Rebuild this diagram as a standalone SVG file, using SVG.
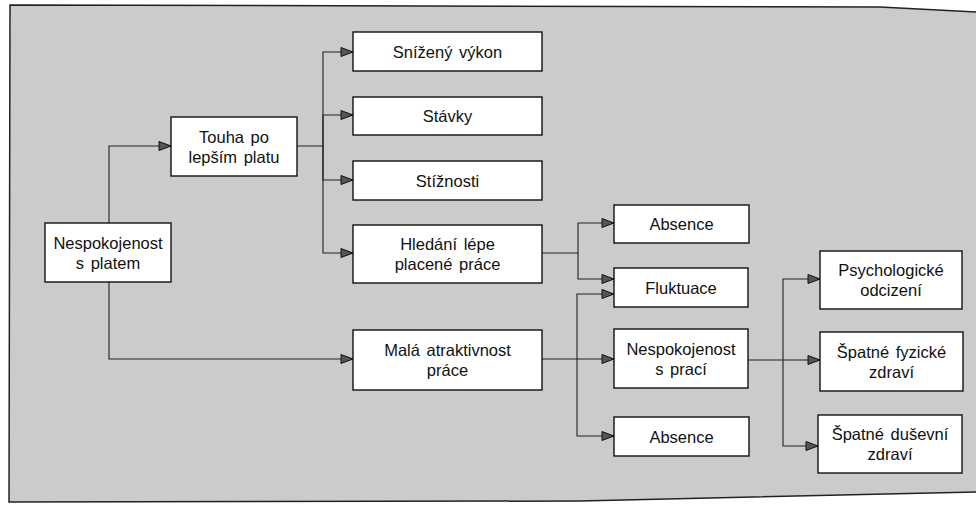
<svg xmlns="http://www.w3.org/2000/svg" width="976" height="505" viewBox="0 0 976 505">
<style>
.bg{fill:#cbcbcb;stroke:none}
.frame{fill:none;stroke:#222;stroke-width:1.5}
.box rect{fill:#fff;stroke:#111;stroke-width:1.4}
.box text{font-family:"Liberation Sans",Arial,sans-serif;font-size:16.5px;fill:#111;text-anchor:middle;word-spacing:2px}
.conn path{fill:none;stroke:#222;stroke-width:1.1;marker-end:url(#arr)}
</style>
<defs>
<marker id="arr" markerUnits="userSpaceOnUse" markerWidth="14" markerHeight="12" viewBox="0 0 14 12" refX="13" refY="6" orient="auto">
<path d="M1,1.5 L13,6 L1,10.5 z" fill="#555" stroke="#111" stroke-width="1"/>
</marker>
</defs>
<polygon class="bg" points="10,5 880,7 976,12 976,492 580,501 9,502"/>
<polyline class="frame" points="976,12 880,7 10,5 9,502 580,501 976,492"/>
<g class="conn" id="connectors">
<path d="M109,223 V146 H171"/>
<path d="M109,282 V359 H353"/>
<path d="M297,146 H323 V52 H353"/>
<path d="M323,146 V115 H353"/>
<path d="M323,146 V180 H353"/>
<path d="M323,146 V253 H353"/>
<path d="M542,253 H578 V223 H614"/>
<path d="M578,253 V279 H614"/>
<path d="M542,359 H614"/>
<path d="M577,359 V294 H614"/>
<path d="M577,359 V436 H614"/>
<path d="M748,360 H820"/>
<path d="M783,360 V279 H820"/>
<path d="M783,360 V446 H818"/>
</g>
<g class="box" id="n-nespokojenost-platem"><rect x="45" y="223" width="126" height="59"/><text x="108" y="248.5">Nespokojenost</text><text x="108" y="268.5">s platem</text></g>
<g class="box" id="n-touha"><rect x="171" y="117" width="126" height="59"/><text x="234" y="142.5">Touha po</text><text x="234" y="162.5">lepším platu</text></g>
<g class="box" id="n-snizeny"><rect x="353" y="32" width="189" height="39"/><text x="447.5" y="57.5">Snížený výkon</text></g>
<g class="box" id="n-stavky"><rect x="353" y="97" width="189" height="38"/><text x="447.5" y="122">Stávky</text></g>
<g class="box" id="n-stiznosti"><rect x="353" y="161" width="189" height="39"/><text x="447.5" y="186.5">Stížnosti</text></g>
<g class="box" id="n-hledani"><rect x="353" y="225" width="189" height="58"/><text x="447.5" y="250">Hledání lépe</text><text x="447.5" y="270">placené práce</text></g>
<g class="box" id="n-mala"><rect x="353" y="330" width="189" height="60"/><text x="447.5" y="356">Malá atraktivnost</text><text x="447.5" y="376">práce</text></g>
<g class="box" id="n-absence1"><rect x="614" y="205" width="135" height="38"/><text x="681.5" y="230">Absence</text></g>
<g class="box" id="n-fluktuace"><rect x="614" y="268" width="134" height="39"/><text x="681" y="293.5">Fluktuace</text></g>
<g class="box" id="n-nespokojenost-praci"><rect x="614" y="329" width="134" height="59"/><text x="681" y="354.5">Nespokojenost</text><text x="681" y="374.5">s prací</text></g>
<g class="box" id="n-absence2"><rect x="614" y="417" width="135" height="39"/><text x="681.5" y="442.5">Absence</text></g>
<g class="box" id="n-psych"><rect x="820" y="251" width="142" height="58"/><text x="891" y="276">Psychologické</text><text x="891" y="296">odcizení</text></g>
<g class="box" id="n-fyz"><rect x="820" y="332" width="143" height="59"/><text x="891.5" y="357.5">Špatné fyzické</text><text x="891.5" y="377.5">zdraví</text></g>
<g class="box" id="n-dus"><rect x="818" y="415" width="144" height="58"/><text x="890" y="440">Špatné duševní</text><text x="890" y="460">zdraví</text></g>
</svg>
